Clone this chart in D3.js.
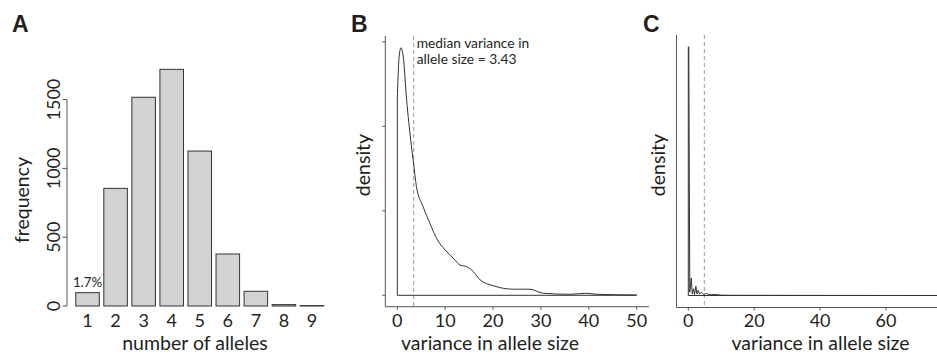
<!DOCTYPE html>
<html>
<head>
<meta charset="utf-8">
<script src="https://cdn.jsdelivr.net/npm/d3@7"></script>
<style>
  body { margin: 0; background: #fff; }
  svg text { font-family: Lato, "Open Sans", sans-serif; fill: #231f20; }
</style>
</head>
<body>
<svg id="chart" width="937" height="355"></svg>
<script>
// panel A: number of alleles per locus
const alleleCounts = ["1", "2", "3", "4", "5", "6", "7", "8", "9"];
const alleleFreq = [97, 855, 1517, 1720, 1126, 378, 107, 10, 3];
const freqTicks = [0, 500, 1000, 1500];

// panel B: density of variance in allele size
const varianceB = [0, 0.35, 0.77, 1.25, 1.95, 2.8, 3.4, 4.0, 5.4, 6.8, 8.4, 10, 11.7, 13.1, 14.5, 15.9, 17.3, 20, 24.3, 27.7, 30.5, 36, 39.6, 41.7, 50];
const densityB = [0.1156, 0.140, 0.1465, 0.141, 0.1156, 0.0919, 0.078, 0.0643, 0.0524, 0.0426, 0.0327, 0.0268, 0.0219, 0.0179, 0.0169, 0.0140, 0.0091, 0.0057, 0.0036, 0.0036, 0.0012, 0.0006, 0.0012, 0.0006, 0.0002];
const medianB = 3.43;
const ticksB = [0, 10, 20, 30, 40, 50];
const densTicks = [0, 0.05, 0.10, 0.15];

// panel C: second density
const varianceC = [0, 0.15, 0.45, 0.9, 1.2, 1.6, 1.9, 2.3, 2.6, 3.0, 3.4, 4.0, 4.6, 5.5, 6.5, 8, 10, 15, 76];
const densityC = [0.147, 0.147, 0.002, 0.0104, 0.001, 0.004, 0.0005, 0.0055, 0.001, 0.003, 0.0008, 0.002, 0.0006, 0.0012, 0.0004, 0.0006, 0.0002, 0.0001, 0];
const medianC = 4.86;
const ticksC = [0, 20, 40, 60];

var svg = d3.select("#chart");
var axisCol = "#555";
var tickSize = 18, titleSize = 19.5;
var tickY = 326.5, titleY = 349.5;

function panelLetter(txt, x) {
  svg.append("text").attr("x", x).attr("y", 32)
    .style("font-family", "'Liberation Sans', Arial, sans-serif")
    .attr("font-weight", "bold").attr("font-size", 23).text(txt);
}

// ---------- A ----------
var xA = d3.scaleBand().domain(alleleCounts).range([73.5, 326]).paddingInner(0.16).paddingOuter(0.08);
var yA = d3.scaleLinear().domain([0, 1500]).range([306, 99.6]);
var gA = svg.append("g");

gA.selectAll("rect").data(alleleFreq).enter().append("rect")
  .attr("x", function (d, i) { return xA(alleleCounts[i]); })
  .attr("y", function (d) { return yA(d); })
  .attr("width", xA.bandwidth())
  .attr("height", function (d) { return yA(0) - yA(d); })
  .attr("fill", "#d1d2d4").attr("stroke", "#333").attr("stroke-width", 1);

gA.append("line").attr("x1", 67).attr("x2", 67).attr("y1", yA(0)).attr("y2", yA(1500))
  .attr("stroke", axisCol);
gA.selectAll(".ty").data(freqTicks).enter().append("line")
  .attr("x1", 62.5).attr("x2", 67).attr("y1", yA).attr("y2", yA).attr("stroke", axisCol);
gA.selectAll(".tl").data(freqTicks).enter().append("text")
  .attr("transform", function (d) { return "translate(59.5," + yA(d) + ") rotate(-90)"; })
  .attr("text-anchor", "middle").attr("font-size", tickSize).text(function (d) { return d; });
gA.selectAll(".xl").data(alleleCounts).enter().append("text")
  .attr("x", function (d) { return xA(d) + xA.bandwidth() / 2; }).attr("y", tickY)
  .attr("text-anchor", "middle").attr("font-size", tickSize).text(function (d) { return d; });
gA.append("text").attr("x", xA("1") + xA.bandwidth() / 2).attr("y", yA(alleleFreq[0]) - 6)
  .attr("text-anchor", "middle").attr("font-size", 13.3).text("1.7%");
gA.append("text").attr("x", 195).attr("y", titleY).attr("text-anchor", "middle")
  .attr("font-size", titleSize).text("number of alleles");
gA.append("text").attr("transform", "translate(29,200) rotate(-90)")
  .attr("text-anchor", "middle").attr("font-size", titleSize).text("frequency");
panelLetter("A", 12);

// ---------- density panel helper ----------
function densityPanel(o) {
  var x = d3.scaleLinear().domain(o.xdom).range(o.xrange);
  var y = d3.scaleLinear().domain([0, 0.15]).range([o.base, 41.8]);
  var g = svg.append("g");

  // L-shaped frame
  g.append("path").attr("fill", "none").attr("stroke", axisCol)
    .attr("d", "M" + o.frameL + "," + o.frameTop + "V" + o.frameB + "H" + o.frameR);
  g.selectAll(".tx").data(o.ticks).enter().append("line")
    .attr("x1", x).attr("x2", x).attr("y1", o.frameB).attr("y2", o.frameB + 3).attr("stroke", axisCol);
  g.selectAll(".txl").data(o.ticks).enter().append("text")
    .attr("x", x).attr("y", tickY).attr("text-anchor", "middle").attr("font-size", tickSize)
    .text(function (d) { return d; });
  if (o.yticks) {
    g.selectAll(".ty").data(o.yticks).enter().append("line")
      .attr("x1", o.frameL - 3).attr("x2", o.frameL).attr("y1", y).attr("y2", y).attr("stroke", axisCol);
  }

  // median line
  g.append("line").attr("x1", x(o.median)).attr("x2", x(o.median))
    .attr("y1", o.frameTop).attr("y2", o.frameB)
    .attr("stroke", "#999").attr("stroke-dasharray", "4,3");

  // density outline, closed down to the baseline
  var pts = o.xs.map(function (v, i) { return [v, o.ys[i]]; });
  var line = d3.line().x(function (d) { return x(d[0]); }).y(function (d) { return y(d[1]); })
    .curve(o.curve);
  g.append("path").attr("fill", "none").attr("stroke", "#333").attr("stroke-width", 1)
    .attr("d", line(pts));
  var first = pts[0], last = pts[pts.length - 1];
  g.append("path").attr("fill", "none").attr("stroke", "#333").attr("stroke-width", 1)
    .attr("d", "M" + x(first[0]) + "," + y(first[1]) + "V" + y(0) + "H" + x(last[0]) + "V" + y(last[1]));

  g.append("text").attr("x", o.titleX).attr("y", titleY).attr("text-anchor", "middle")
    .attr("font-size", titleSize).text("variance in allele size");
  g.append("text").attr("transform", "translate(" + o.densX + ",165) rotate(-90)")
    .attr("text-anchor", "middle").attr("font-size", titleSize).text("density");
  return { x: x, y: y, g: g };
}

var pB = densityPanel({
  xdom: [0, 50], xrange: [397.3, 636.7], base: 295.3,
  frameL: 385.3, frameTop: 36, frameB: 306.7, frameR: 649,
  ticks: ticksB, yticks: densTicks, median: medianB,
  xs: varianceB, ys: densityB, curve: d3.curveMonotoneX,
  titleX: 490, densX: 370
});
pB.g.append("text").attr("x", pB.x(medianB) + 3).attr("y", 48).attr("font-size", 13.8)
  .text("median variance in");
pB.g.append("text").attr("x", pB.x(medianB) + 3).attr("y", 64).attr("font-size", 13.8)
  .text("allele size = " + medianB);
panelLetter("B", 351);

densityPanel({
  xdom: [0, 60], xrange: [688.3, 886], base: 295.5,
  frameL: 676.5, frameTop: 35, frameB: 307.5, frameR: 937,
  ticks: ticksC, yticks: null, median: medianC,
  xs: varianceC, ys: densityC, curve: d3.curveLinear,
  titleX: 820.5, densX: 665
});
panelLetter("C", 643);
</script>
</body>
</html>
